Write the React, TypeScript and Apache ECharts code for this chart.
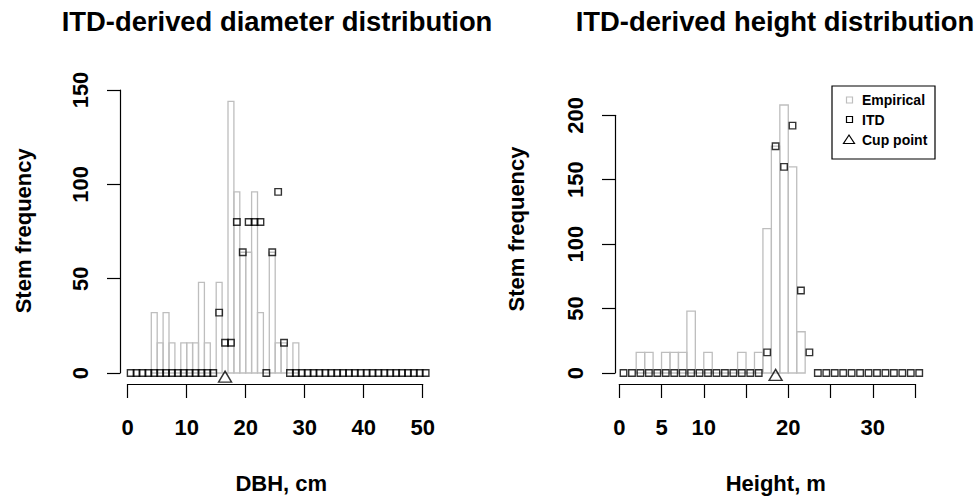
import React, { useEffect, useRef } from "react";
import * as echarts from "echarts";

// ---------- DBH panel ----------
const dbhBinStart = [4, 5, 6, 7, 8, 9, 10, 11, 12, 13, 14, 15, 16, 17, 18, 19, 20, 21, 22, 23, 24, 25, 26, 27, 28];
const dbhEmpirical = [32, 16, 32, 16, 0, 16, 16, 16, 48, 16, 0, 48, 0, 144, 96, 64, 64, 96, 32, 0, 64, 16, 16, 0, 16];
const dbhMid = [
  0.5, 1.5, 2.5, 3.5, 4.5, 5.5, 6.5, 7.5, 8.5, 9.5, 10.5, 11.5, 12.5, 13.5, 14.5, 15.5, 16.5,
  17.5, 18.5, 19.5, 20.5, 21.5, 22.5, 23.5, 24.5, 25.5, 26.5, 27.5, 28.5, 29.5, 30.5, 31.5, 32.5,
  33.5, 34.5, 35.5, 36.5, 37.5, 38.5, 39.5, 40.5, 41.5, 42.5, 43.5, 44.5, 45.5, 46.5, 47.5, 48.5,
  49.5, 50.5,
];
const dbhItd = [
  0, 0, 0, 0, 0, 0, 0, 0, 0, 0, 0, 0, 0, 0, 0, 32, 16,
  16, 80, 64, 80, 80, 80, 0, 64, 96, 16, 0, 0, 0, 0, 0, 0,
  0, 0, 0, 0, 0, 0, 0, 0, 0, 0, 0, 0, 0, 0, 0, 0,
  0, 0,
];
const dbhCupPoint = [16.5, -3];

// ---------- Height panel ----------
const heightBinStart = [2, 3, 4, 5, 6, 7, 8, 9, 10, 11, 12, 13, 14, 15, 16, 17, 18, 19, 20, 21];
const heightEmpirical = [16, 16, 0, 16, 16, 16, 48, 0, 16, 0, 0, 0, 16, 0, 16, 112, 176, 208, 160, 32];
const heightMid = [
  0.5, 1.5, 2.5, 3.5, 4.5, 5.5, 6.5, 7.5, 8.5, 9.5, 10.5, 11.5, 12.5, 13.5, 14.5, 15.5, 16.5,
  17.5, 18.5, 19.5, 20.5, 21.5, 22.5, 23.5, 24.5, 25.5, 26.5, 27.5, 28.5, 29.5, 30.5, 31.5, 32.5,
  33.5, 34.5, 35.5,
];
const heightItd = [
  0, 0, 0, 0, 0, 0, 0, 0, 0, 0, 0, 0, 0, 0, 0, 0, 0,
  16, 176, 160, 192, 64, 16, 0, 0, 0, 0, 0, 0, 0, 0, 0, 0,
  0, 0, 0,
];
const heightCupPoint = [18.5, -3];
const heightTickLabels = [0, 5, 10, 20, 30];

const BIN_WIDTH = 1;
const FONT = '"Liberation Sans", Arial, Helvetica, sans-serif';

export default function App() {
  const ref = useRef<HTMLDivElement>(null);

  useEffect(() => {
    if (!ref.current) return;
    const chart = echarts.init(ref.current, null, { renderer: "svg" });

    const lineStyle = { color: "#000", width: 1.2 };
    const labelBase = { color: "#000", fontSize: 22, fontWeight: "bold", fontFamily: FONT };

    const histItem = (_params: any, api: any) => {
      const x0 = api.value(0);
      const v = api.value(1);
      const a = api.coord([x0, 0]);
      const b = api.coord([x0 + BIN_WIDTH, v]);
      return {
        type: "rect",
        shape: { x: a[0], y: b[1], width: b[0] - a[0], height: a[1] - b[1] },
        style: { fill: "none", stroke: "#bebebe", lineWidth: 1.3 },
      };
    };

    const hollow = { color: "rgba(0,0,0,0)", borderColor: "#000", borderWidth: 1.4 };

    const txt = (text: string, x: number, y: number, size: number, rotation = 0, align = "center") => ({
      type: "text",
      x,
      y,
      rotation,
      silent: true,
      style: {
        text,
        fill: "#000",
        fontSize: size,
        fontWeight: "bold",
        fontFamily: FONT,
        align,
        textAlign: align,
        verticalAlign: "middle",
        textVerticalAlign: "middle",
      },
    });

    const xAxisCommon = {
      type: "value",
      offset: 11,
      axisLine: { show: true, onZero: false, lineStyle },
      axisTick: { show: true, length: 14, lineStyle },
      splitLine: { show: false },
    };
    const yAxisCommon = {
      type: "value",
      axisLine: { show: true, onZero: false, lineStyle },
      axisTick: { show: true, length: 13, lineStyle },
      splitLine: { show: false },
    };

    chart.setOption({
      animation: false,
      backgroundColor: "#fff",
      grid: [
        { left: 127.7, top: 90, width: 295, height: 283 },
        { left: 619.3, top: 115.3, width: 295.7, height: 257.7 },
      ],
      xAxis: [
        {
          ...xAxisCommon,
          gridIndex: 0,
          min: 0,
          max: 50,
          interval: 10,
          axisLabel: { ...labelBase, margin: 32 },
        },
        {
          ...xAxisCommon,
          gridIndex: 1,
          min: 0,
          max: 35,
          interval: 5,
          axisLabel: {
            ...labelBase,
            margin: 32,
            formatter: (v: number) => (heightTickLabels.includes(v) ? String(v) : ""),
          },
        },
      ],
      yAxis: [
        {
          ...yAxisCommon,
          gridIndex: 0,
          min: 0,
          max: 150,
          interval: 50,
          offset: 7.7,
          axisLabel: { ...labelBase, rotate: 90, margin: 29 },
        },
        {
          ...yAxisCommon,
          gridIndex: 1,
          min: 0,
          max: 200,
          interval: 50,
          offset: 4.3,
          axisLabel: { ...labelBase, rotate: 90, margin: 29 },
        },
      ],
      series: [
        {
          type: "custom",
          xAxisIndex: 0,
          yAxisIndex: 0,
          silent: true,
          encode: { x: 0, y: 1 },
          data: dbhBinStart.map((b, i) => [b, dbhEmpirical[i]]),
          renderItem: histItem,
          clip: false,
        },
        {
          type: "scatter",
          xAxisIndex: 0,
          yAxisIndex: 0,
          silent: true,
          clip: false,
          symbol: "rect",
          symbolSize: 6.5,
          itemStyle: hollow,
          data: dbhMid.map((m, i) => [m, dbhItd[i]]),
        },
        {
          type: "scatter",
          xAxisIndex: 0,
          yAxisIndex: 0,
          silent: true,
          clip: false,
          symbol: "triangle",
          symbolSize: [13, 11],
          symbolOffset: [0, -2],
          itemStyle: hollow,
          data: [dbhCupPoint],
        },
        {
          type: "custom",
          xAxisIndex: 1,
          yAxisIndex: 1,
          silent: true,
          encode: { x: 0, y: 1 },
          data: heightBinStart.map((b, i) => [b, heightEmpirical[i]]),
          renderItem: histItem,
          clip: false,
        },
        {
          type: "scatter",
          xAxisIndex: 1,
          yAxisIndex: 1,
          silent: true,
          clip: false,
          symbol: "rect",
          symbolSize: 6.5,
          itemStyle: hollow,
          data: heightMid.map((m, i) => [m, heightItd[i]]),
        },
        {
          type: "scatter",
          xAxisIndex: 1,
          yAxisIndex: 1,
          silent: true,
          clip: false,
          symbol: "triangle",
          symbolSize: [13, 11],
          symbolOffset: [0, -2],
          itemStyle: hollow,
          data: [heightCupPoint],
        },
      ],
      graphic: [
        txt("ITD-derived diameter distribution", 277, 21.6, 27.4),
        txt("ITD-derived height distribution", 775, 21.6, 27.4),
        txt("DBH, cm", 281.3, 483.4, 22),
        txt("Height, m", 775.8, 483.4, 22),
        txt("Stem frequency", 23.5, 230.8, 22, Math.PI / 2),
        txt("Stem frequency", 516.5, 229, 22, Math.PI / 2),
        {
          type: "group",
          silent: true,
          children: [
            {
              type: "rect",
              shape: { x: 832, y: 86, width: 103, height: 73 },
              style: { fill: "#fff", stroke: "#000", lineWidth: 1.2 },
            },
            {
              type: "rect",
              shape: { x: 846.5, y: 97, width: 6, height: 6 },
              style: { fill: "none", stroke: "#bebebe", lineWidth: 1.2 },
            },
            {
              type: "rect",
              shape: { x: 846.5, y: 116.5, width: 6, height: 6 },
              style: { fill: "none", stroke: "#000", lineWidth: 1.2 },
            },
            {
              type: "polygon",
              shape: { points: [[843.5, 143.5], [854.5, 143.5], [849, 135]] },
              style: { fill: "none", stroke: "#000", lineWidth: 1.2 },
            },
            txt("Empirical", 862, 99.5, 14, 0, "left"),
            txt("ITD", 862, 119.5, 14, 0, "left"),
            txt("Cup point", 862, 139.5, 14, 0, "left"),
          ],
        },
      ],
    });

    return () => chart.dispose();
  }, []);

  return (
    <div
      ref={ref}
      style={{ position: "absolute", left: 0, top: 0, width: 979, height: 498 }}
    />
  );
}
